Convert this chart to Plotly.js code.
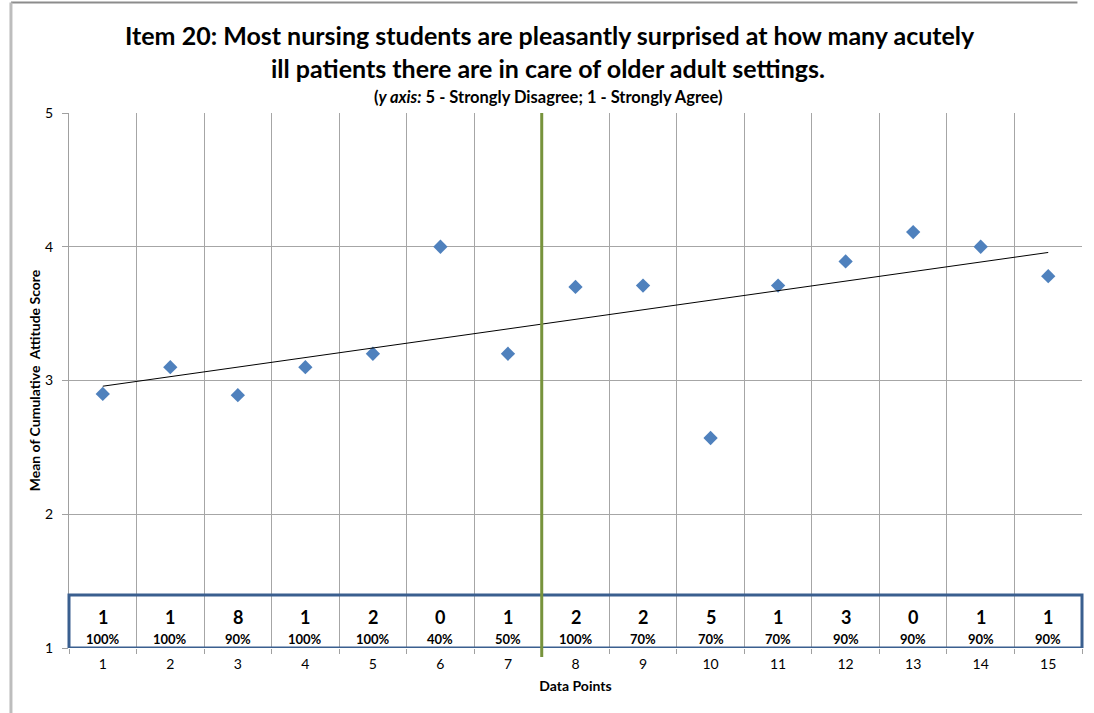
<!DOCTYPE html>
<html>
<head>
<meta charset="utf-8">
<script src="https://cdn.plot.ly/plotly-3.0.1.min.js"></script>
<style>
html,body{margin:0;padding:0;background:#fff;}
#chart{width:1094px;height:713px;}
</style>
</head>
<body>
<div id="chart"></div>
<script>
// ---- data ----
const categories = ['1','2','3','4','5','6','7','8','9','10','11','12','13','14','15'];
const meanScores = [2.90, 3.10, 2.89, 3.10, 3.20, 4.00, 3.20, 3.70, 3.71, 2.57, 3.71, 3.89, 4.11, 4.00, 3.78];
const counts = ['1','1','8','1','2','0','1','2','2','5','1','3','0','1','1'];
const percents = ['100%','100%','90%','100%','100%','40%','50%','100%','70%','70%','70%','90%','90%','90%','90%'];
const phaseBoundary = 6.5; // between data points 7 and 8 (category index)
const titleLines = ['Item 20: Most nursing students are pleasantly surprised at how many acutely', 'ill patients there are in care of older adult settings.'];
const subtitle = '(<i>y axis:</i> 5 - Strongly Disagree; 1 - Strongly Agree)';

// linear trendline (least squares) from the data
const n = meanScores.length;
const xs = meanScores.map((_, i) => i);
const mx = xs.reduce((a, b) => a + b, 0) / n;
const my = meanScores.reduce((a, b) => a + b, 0) / n;
let sxy = 0, sxx = 0;
xs.forEach((x, i) => { sxy += (x - mx) * (meanScores[i] - my); sxx += (x - mx) * (x - mx); });
const slope = sxy / sxx, icpt = my - slope * mx;
const trendY = [icpt + slope * xs[0], icpt + slope * xs[n - 1]];

const FONT = 'Lato, "Open Sans", sans-serif';

const traces = [
  {
    x: categories, y: meanScores,
    type: 'scatter', mode: 'markers',
    marker: {symbol: 'diamond', size: 11, color: '#4f81bd'},
    showlegend: false
  },
  {
    x: [categories[0], categories[n - 1]], y: trendY,
    type: 'scatter', mode: 'lines',
    line: {color: '#000000', width: 1},
    hoverinfo: 'skip', showlegend: false
  }
];

const annotations = [];
categories.forEach((c, i) => {
  annotations.push({x: i, y: 1.235, xref: 'x', yref: 'y', text: '<b>' + counts[i] + '</b>',
    showarrow: false, font: {family: FONT, size: 18, color: '#000'}});
  annotations.push({x: i, y: 1.065, xref: 'x', yref: 'y', text: '<b>' + percents[i] + '</b>',
    showarrow: false, font: {family: FONT, size: 13, color: '#000'}});
});
annotations.push({xref: 'paper', yref: 'paper', x: 0.5, y: 1, yanchor: 'middle', yshift: 78, xshift: -26,
  text: '<b>' + titleLines[0] + '</b>', showarrow: false, font: {family: FONT, size: 25, color: '#000'}});
annotations.push({xref: 'paper', yref: 'paper', x: 0.5, y: 1, yanchor: 'middle', yshift: 45, xshift: -28,
  text: '<b>' + titleLines[1] + '</b>', showarrow: false, font: {family: FONT, size: 25, color: '#000'}});
annotations.push({xref: 'paper', yref: 'paper', x: 0.5, y: 1, yanchor: 'middle', yshift: 16, xshift: -27,
  text: '<b>' + subtitle + '</b>', showarrow: false, font: {family: FONT, size: 16.5, color: '#000'}});

const layout = {
  width: 1094, height: 713,
  margin: {l: 69, r: 12, t: 113, b: 65},
  paper_bgcolor: '#ffffff', plot_bgcolor: '#ffffff',
  xaxis: {
    type: 'category', categoryorder: 'array', categoryarray: categories, range: [-0.5, 14.5],
    tickson: 'boundaries', ticks: 'outside', ticklen: 5, tickcolor: '#a0a0a0',
    showgrid: true, gridcolor: '#a6a6a6', gridwidth: 1,
    showline: false, zeroline: false, ticklabelstandoff: 6,
    tickfont: {family: FONT, size: 14, color: '#000'},
    title: {text: '<b>Data Points</b>', font: {family: FONT, size: 14, color: '#000'}, standoff: 10},
    fixedrange: true
  },
  yaxis: {
    range: [1, 5], dtick: 1, tick0: 1,
    ticks: 'outside', ticklen: 6, tickcolor: '#a0a0a0',
    showgrid: true, gridcolor: '#a6a6a6', gridwidth: 1,
    showline: true, linecolor: '#a0a0a0', linewidth: 1, zeroline: false, ticklabelstandoff: 6,
    tickfont: {family: FONT, size: 14, color: '#000'},
    title: {text: '<b>Mean of Cumulative  Attitude Score</b>', font: {family: FONT, size: 14, color: '#000'}, standoff: 1},
    fixedrange: true
  },
  shapes: [
    {type: 'rect', xref: 'paper', yref: 'y', x0: 0, x1: 1, y0: 1, y1: 1.396,
      line: {color: '#3a5f8f', width: 3}, fillcolor: 'rgba(0,0,0,0)', layer: 'above'},
    {type: 'line', xref: 'x', yref: 'paper', x0: phaseBoundary, x1: phaseBoundary, y0: -0.017, y1: 1,
      line: {color: '#77933c', width: 3}, layer: 'above'},
    {type: 'line', xref: 'paper', yref: 'paper', x0: -0.0573, x1: 0.9955, y0: 1.2065, y1: 1.2065,
      line: {color: '#8c8c8c', width: 2}},
    {type: 'line', xref: 'paper', yref: 'paper', x0: -0.0573, x1: -0.0573, y0: 1.2065, y1: -0.13,
      line: {color: '#bdbdbd', width: 3}}
  ],
  annotations: annotations,
  showlegend: false
};

Plotly.newPlot('chart', traces, layout, {displayModeBar: false, staticPlot: true});
</script>
</body>
</html>
